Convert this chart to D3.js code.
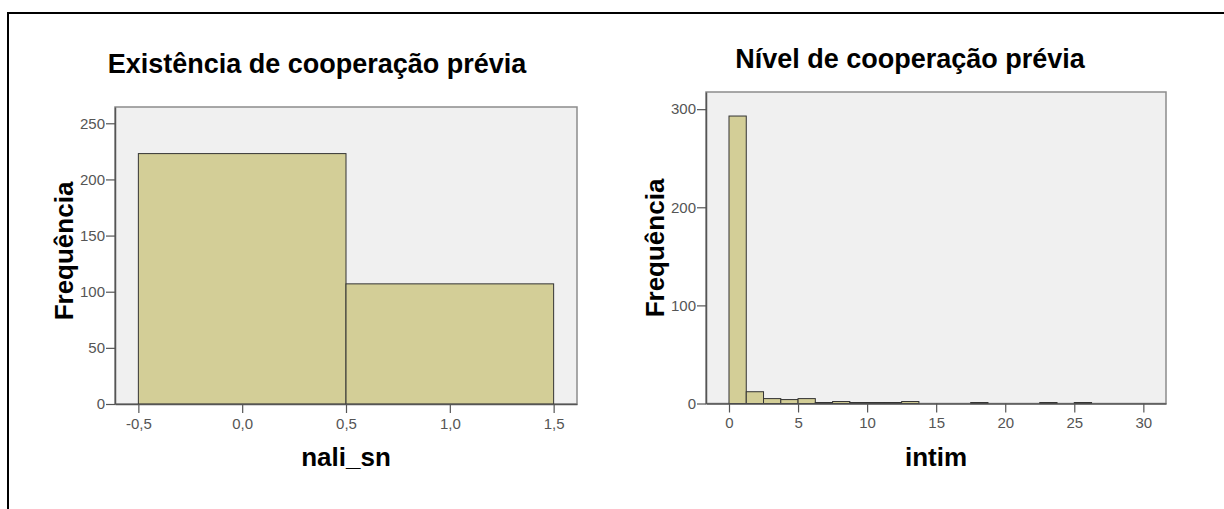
<!DOCTYPE html>
<html>
<head>
<meta charset="utf-8">
<script src="https://cdn.jsdelivr.net/npm/d3@7"></script>
<style>
  html, body { margin: 0; padding: 0; background: #fff; }
  svg { display: block; }
  text { font-family: "Liberation Sans", Arial, sans-serif; }
</style>
</head>
<body>
<div id="chart"></div>
<script>
// left histogram: nali_sn
const naliEdges = [-0.5, 0.5, 1.5]
const naliCounts = [223, 107]
const naliXTicks = [-0.5, 0, 0.5, 1, 1.5]
const naliYTicks = [0, 50, 100, 150, 200, 250]

// right histogram: intim (bins of 1.25)
const intimBinWidth = 1.25
const intimStarts = [0, 1.25, 2.5, 3.75, 5, 6.25, 7.5, 8.75, 10, 11.25, 12.5,
  13.75, 15, 16.25, 17.5, 18.75, 20, 21.25, 22.5, 23.75, 25]
const intimCounts = [293, 12, 5, 4, 5, 1, 2, 1, 1, 1, 2,
  0, 0, 0, 1, 0, 0, 0, 1, 0, 1]
const intimXTicks = [0, 5, 10, 15, 20, 25, 30]
const intimYTicks = [0, 100, 200, 300]

const width = 1224
const height = 509

const svg = d3.select("#chart")
  .append("svg")
  .attr("width", width)
  .attr("height", height)

// outer frame (runs off the right and bottom edges)
svg.append("rect")
  .attr("x", 8).attr("y", 13)
  .attr("width", width + 20).attr("height", height + 20)
  .attr("fill", "none")
  .attr("stroke", "#000")
  .attr("stroke-width", 2)

// comma decimals, plain hyphen for negatives
const ptBr = d3.formatLocale({ decimal: ",", thousands: ".", grouping: [3], currency: ["R$", ""], minus: "-" })

function drawHist(cfg) {
  const x = d3.scaleLinear().domain(cfg.xDomain).range([cfg.left, cfg.right])
  const y = d3.scaleLinear().domain(cfg.yDomain).range([cfg.bottom, cfg.top])
  const g = svg.append("g")

  g.append("rect")
    .attr("x", cfg.left).attr("y", cfg.top)
    .attr("width", cfg.right - cfg.left)
    .attr("height", cfg.bottom - cfg.top)
    .attr("fill", "#f0f0f0")
    .attr("stroke", "#8c8c8c")
    .attr("stroke-width", 1.5)

  g.append("g")
    .selectAll("rect")
    .data(cfg.bins.filter(d => d.count > 0))
    .join("rect")
    .attr("x", d => x(d.x0))
    .attr("width", d => x(d.x1) - x(d.x0))
    .attr("y", d => y(d.count))
    .attr("height", d => y(0) - y(d.count))
    .attr("fill", "#d3ce97")
    .attr("stroke", "#333")
    .attr("stroke-width", 1)

  const yAxis = g.append("g")
    .attr("transform", `translate(${cfg.left},0)`)
    .call(d3.axisLeft(y).tickValues(cfg.yTicks).tickSize(9).tickSizeOuter(0).tickPadding(1))
  const xAxis = g.append("g")
    .attr("transform", `translate(0,${cfg.bottom})`)
    .call(d3.axisBottom(x).tickValues(cfg.xTicks).tickFormat(cfg.xFormat).tickSize(9).tickSizeOuter(0).tickPadding(5))

  for (const ax of [yAxis, xAxis]) {
    ax.select(".domain").attr("stroke", "#555").attr("stroke-width", 1.5)
    ax.selectAll(".tick line").attr("stroke", "#555").attr("stroke-width", 1.2)
    ax.selectAll(".tick text")
      .attr("fill", "#555")
      .attr("font-size", 15)
      .attr("font-family", "'Liberation Sans', Arial, sans-serif")
  }

  svg.append("text")
    .attr("x", cfg.titleX).attr("y", cfg.titleY)
    .attr("text-anchor", "middle")
    .attr("font-size", 27)
    .attr("font-weight", 700)
    .attr("fill", "#000")
    .text(cfg.title)

  svg.append("text")
    .attr("x", (cfg.left + cfg.right) / 2).attr("y", 466)
    .attr("text-anchor", "middle")
    .attr("font-size", 26)
    .attr("font-weight", 700)
    .attr("fill", "#000")
    .text(cfg.xLabel)

  svg.append("text")
    .attr("transform", `translate(${cfg.yLabelX},${cfg.yLabelY}) rotate(-90)`)
    .attr("text-anchor", "middle")
    .attr("font-size", 26)
    .attr("font-weight", 700)
    .attr("fill", "#000")
    .text("Frequência")
}

drawHist({
  left: 115, right: 577, top: 107, bottom: 404,
  xDomain: [-0.6125, 1.6125], yDomain: [0, 264.5],
  bins: naliCounts.map((c, i) => ({ x0: naliEdges[i], x1: naliEdges[i + 1], count: c })),
  xTicks: naliXTicks, yTicks: naliYTicks,
  xFormat: ptBr.format(".1f"),
  title: "Existência de cooperação prévia", titleX: 317, titleY: 73,
  xLabel: "nali_sn",
  yLabelX: 73, yLabelY: 251
})

drawHist({
  left: 706, right: 1166, top: 92, bottom: 403.5,
  xDomain: [-1.665, 31.64], yDomain: [0, 317.5],
  bins: intimCounts.map((c, i) => ({ x0: intimStarts[i], x1: intimStarts[i] + intimBinWidth, count: c })),
  xTicks: intimXTicks, yTicks: intimYTicks,
  xFormat: d3.format("d"),
  title: "Nível de cooperação prévia", titleX: 910, titleY: 68,
  xLabel: "intim",
  yLabelX: 664, yLabelY: 248
})
</script>
</body>
</html>
